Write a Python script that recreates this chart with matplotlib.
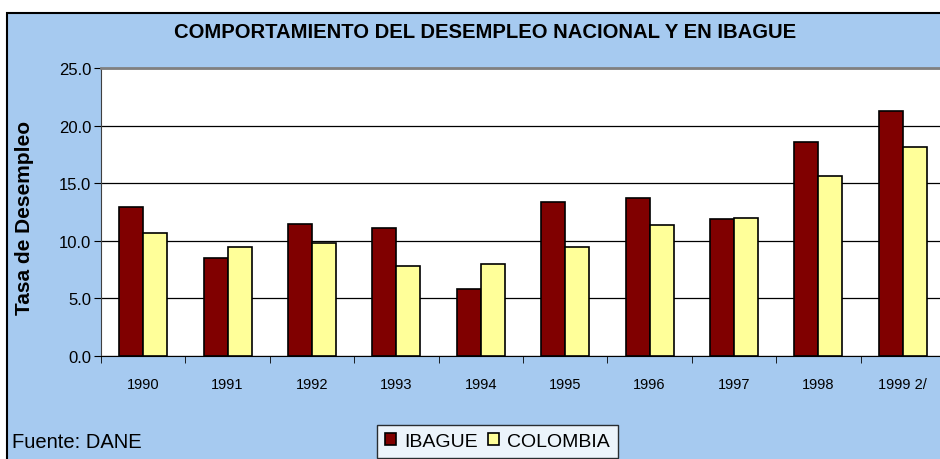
import numpy as np
import matplotlib.pyplot as plt
from matplotlib.patches import Rectangle

### Data ###
years = ['1990', '1991', '1992', '1993', '1994', '1995', '1996', '1997', '1998', '1999 2/']
ibague = [12.9, 8.5, 11.5, 11.1, 5.8, 13.4, 13.7, 11.9, 18.6, 21.3]
colombia = [10.7, 9.5, 9.8, 7.8, 8.0, 9.5, 11.4, 12.0, 15.6, 18.1]

plt.rcParams['font.family'] = ['Liberation Sans', 'DejaVu Sans']

W, H = 940, 460
fig = plt.figure(figsize=(W / 100, H / 100), dpi=100)
fig.patch.set_facecolor('white')

# outer chart area (light blue, border goes beyond the right/bottom edge)
bg = Rectangle((7 / W, -0.05), 1.1, 1 - 14 / H + 0.05, transform=fig.transFigure,
               facecolor='#A6CAF0', edgecolor='black', lw=1.5, zorder=-10)
fig.add_artist(bg)

ax = fig.add_axes([101 / W, 1 - 357 / H, (945 - 101) / W, (357 - 69) / H])
ax.set_facecolor('white')

x = np.arange(len(years))
bw = 0.285
ax.bar(x - bw / 2, ibague, bw, color='#800000', edgecolor='black', lw=1.2, label='IBAGUE', zorder=3)
ax.bar(x + bw / 2, colombia, bw, color='#FFFF99', edgecolor='black', lw=1.2, label='COLOMBIA', zorder=3)

ax.set_xlim(-0.5, len(years) - 0.5)
ax.set_ylim(0, 25)
ax.set_yticks(np.arange(0, 25.1, 5))
ax.set_yticklabels(['%.1f' % v for v in np.arange(0, 25.1, 5)], fontsize=12)
ax.yaxis.grid(True, color='black', lw=0.9, zorder=0)
ax.set_axisbelow(True)

ax.set_xticks(x)
ax.set_xticklabels(years, fontsize=10.5)
ax.set_xticks(np.arange(-0.5, len(years), 1), minor=True)
ax.tick_params(axis='x', which='major', length=0, pad=15)
ax.tick_params(axis='x', which='minor', length=5, direction='out', color='black')
ax.tick_params(axis='y', length=5, direction='out', color='black', pad=2)

ax.spines['right'].set_visible(False)
ax.spines['top'].set_color('#808080')
ax.spines['top'].set_linewidth(2)
ax.spines['left'].set_color('#404040')
ax.spines['bottom'].set_color('black')

fig.text(25 / W, 1 - 218 / H, 'Tasa de Desempleo', rotation=90, ha='center', va='center',
         fontsize=15, fontweight='bold')

fig.text(485 / W, 1 - 32 / H, 'COMPORTAMIENTO DEL DESEMPLEO NACIONAL Y EN IBAGUE',
         ha='center', va='center', fontsize=14.6, fontweight='bold')
fig.text(12 / W, 1 - 443 / H, 'Fuente: DANE', ha='left', va='center', fontsize=14.5)

leg = fig.legend(loc='upper left', bbox_to_anchor=(377 / W, 1 - 426 / H), ncol=2,
                 fontsize=14, frameon=True, fancybox=False, edgecolor='black',
                 handlelength=0.6, handleheight=0.6, handletextpad=0.4,
                 columnspacing=0.5, borderpad=0.4, borderaxespad=0)
leg.get_frame().set_linewidth(1.0)
leg.get_frame().set_facecolor('white')

fig.savefig('out.png', dpi=100)
